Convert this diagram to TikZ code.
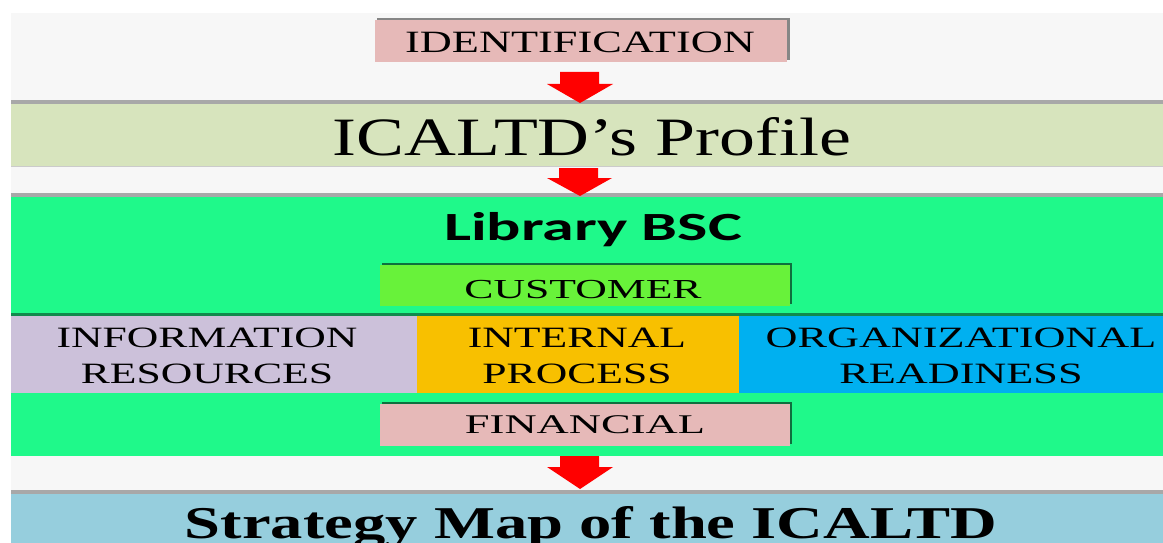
\documentclass[tikz,border=0pt]{standalone}
\usepackage{fontspec}
\usepackage{graphicx}
\setmainfont{Liberation Serif}
\newfontfamily\calibrifont{Carlito}
\definecolor{bgc}{HTML}{F7F7F7}
\definecolor{shadowc}{HTML}{A8A8A8}
\definecolor{pinkc}{HTML}{E6B9B8}
\definecolor{profc}{HTML}{D7E4BD}
\definecolor{greenc}{HTML}{1FF98A}
\definecolor{custc}{HTML}{68F23A}
\definecolor{lavc}{HTML}{CCC1DA}
\definecolor{orangec}{HTML}{F8C000}
\definecolor{bluec}{HTML}{00B0F0}
\definecolor{stratc}{HTML}{96CEDD}
\definecolor{redc}{HTML}{FF0000}
\begin{document}
\begin{tikzpicture}[x=1pt,y=-1pt,
  area/.style={fill=#1, draw=none, inner sep=0pt, outer sep=0pt, anchor=north west},
  lbl/.style={inner sep=0pt, outer sep=0pt, anchor=base, text=black},
  blockarrow/.style={fill=redc, draw=none},
]
\useasboundingbox (0,0) rectangle (1163,543);
\fill[white] (0,0) rectangle (1163,543);
\fill[bgc] (11,13) rectangle (1163,543);

% ICALTD's Profile band
\fill[shadowc] (11,100) rectangle (1163,104);
\node[area=profc, minimum width=1152, minimum height=62] (profile) at (11,104) {};
\fill[shadowc!60] (11,166) rectangle (1163,167);

% Library BSC band
\fill[shadowc] (11,193) rectangle (1163,197);
\node[area=greenc, minimum width=1152, minimum height=259] (bsc) at (11,197) {};

% Strategy band
\fill[shadowc] (11,490) rectangle (1163,494);
\node[area=stratc, minimum width=1152, minimum height=49] (strategy) at (11,494) {};

% IDENTIFICATION box
\fill[shadowc!80!black] (377,18) rectangle (790,60);
\node[area=pinkc, minimum width=412, minimum height=42] (ident) at (375,20) {};

% CUSTOMER box
\fill[black!55!greenc] (382,263) rectangle (792,304);
\node[area=custc, minimum width=410, minimum height=41] (customer) at (380,265) {};

% row of three
\fill[black!45!greenc] (11,313) rectangle (1163,316);
\node[area=lavc, minimum width=406, minimum height=77] (info) at (11,316) {};
\node[area=orangec, minimum width=323, minimum height=77] (internal) at (417,316) {};
\node[area=bluec, minimum width=424, minimum height=77] (org) at (739,316) {};

% FINANCIAL box
\fill[black!55!greenc] (382,402) rectangle (792,444);
\node[area=pinkc, minimum width=410, minimum height=42] (financial) at (380,404) {};

% texts
\node[lbl, font=\fontsize{31}{36}\selectfont] (identT) at (580,53) {\scalebox{1.43}[1]{IDENTIFICATION}};
\node[lbl, font=\fontsize{54}{60}\selectfont] (profT) at (592,155) {\scalebox{1.33}[1]{ICALTD’s Profile}};
\node[lbl, font=\calibrifont\bfseries\fontsize{40}{46}\selectfont] (bscT) at (593,240) {\scalebox{1.6}[1]{Library BSC}};
\node[lbl, font=\fontsize{27.5}{32}\selectfont] (custT) at (583,298) {\scalebox{1.59}[1]{CUSTOMER}};
\node[lbl, font=\fontsize{29.5}{36}\selectfont, align=center] (infoT) at (207,383)
  {\scalebox{1.48}[1]{INFORMATION}\\\scalebox{1.48}[1]{RESOURCES}};
\node[lbl, font=\fontsize{29.5}{36}\selectfont, align=center] (internalT) at (577,383)
  {\scalebox{1.48}[1]{INTERNAL}\\\scalebox{1.48}[1]{PROCESS}};
\node[lbl, font=\fontsize{29.5}{36}\selectfont, align=center] (orgT) at (961,383)
  {\scalebox{1.5}[1]{ORGANIZATIONAL}\\\scalebox{1.5}[1]{READINESS}};
\node[lbl, font=\fontsize{27}{32}\selectfont] (finT) at (585,433) {\scalebox{1.65}[1]{FINANCIAL}};
\begin{scope}
\clip (11,494) rectangle (1163,543);
\node[lbl, font=\bfseries\fontsize{45.5}{52}\selectfont] (stratT) at (591,538) {\scalebox{1.42}[1]{Strategy Map of the ICALTD}};
\end{scope}

% block arrows
\fill[blockarrow] (560,72) -- (599,72) -- (599,84) -- (613,84) -- (580,103) -- (547,84) -- (560,84) -- cycle;
\fill[blockarrow] (559,168) -- (598,168) -- (598,178) -- (612,178) -- (580,196) -- (547,178) -- (559,178) -- cycle;
\fill[blockarrow] (560,456) -- (599,456) -- (599,467) -- (613,467) -- (580,489) -- (547,467) -- (560,467) -- cycle;
\end{tikzpicture}
\end{document}
